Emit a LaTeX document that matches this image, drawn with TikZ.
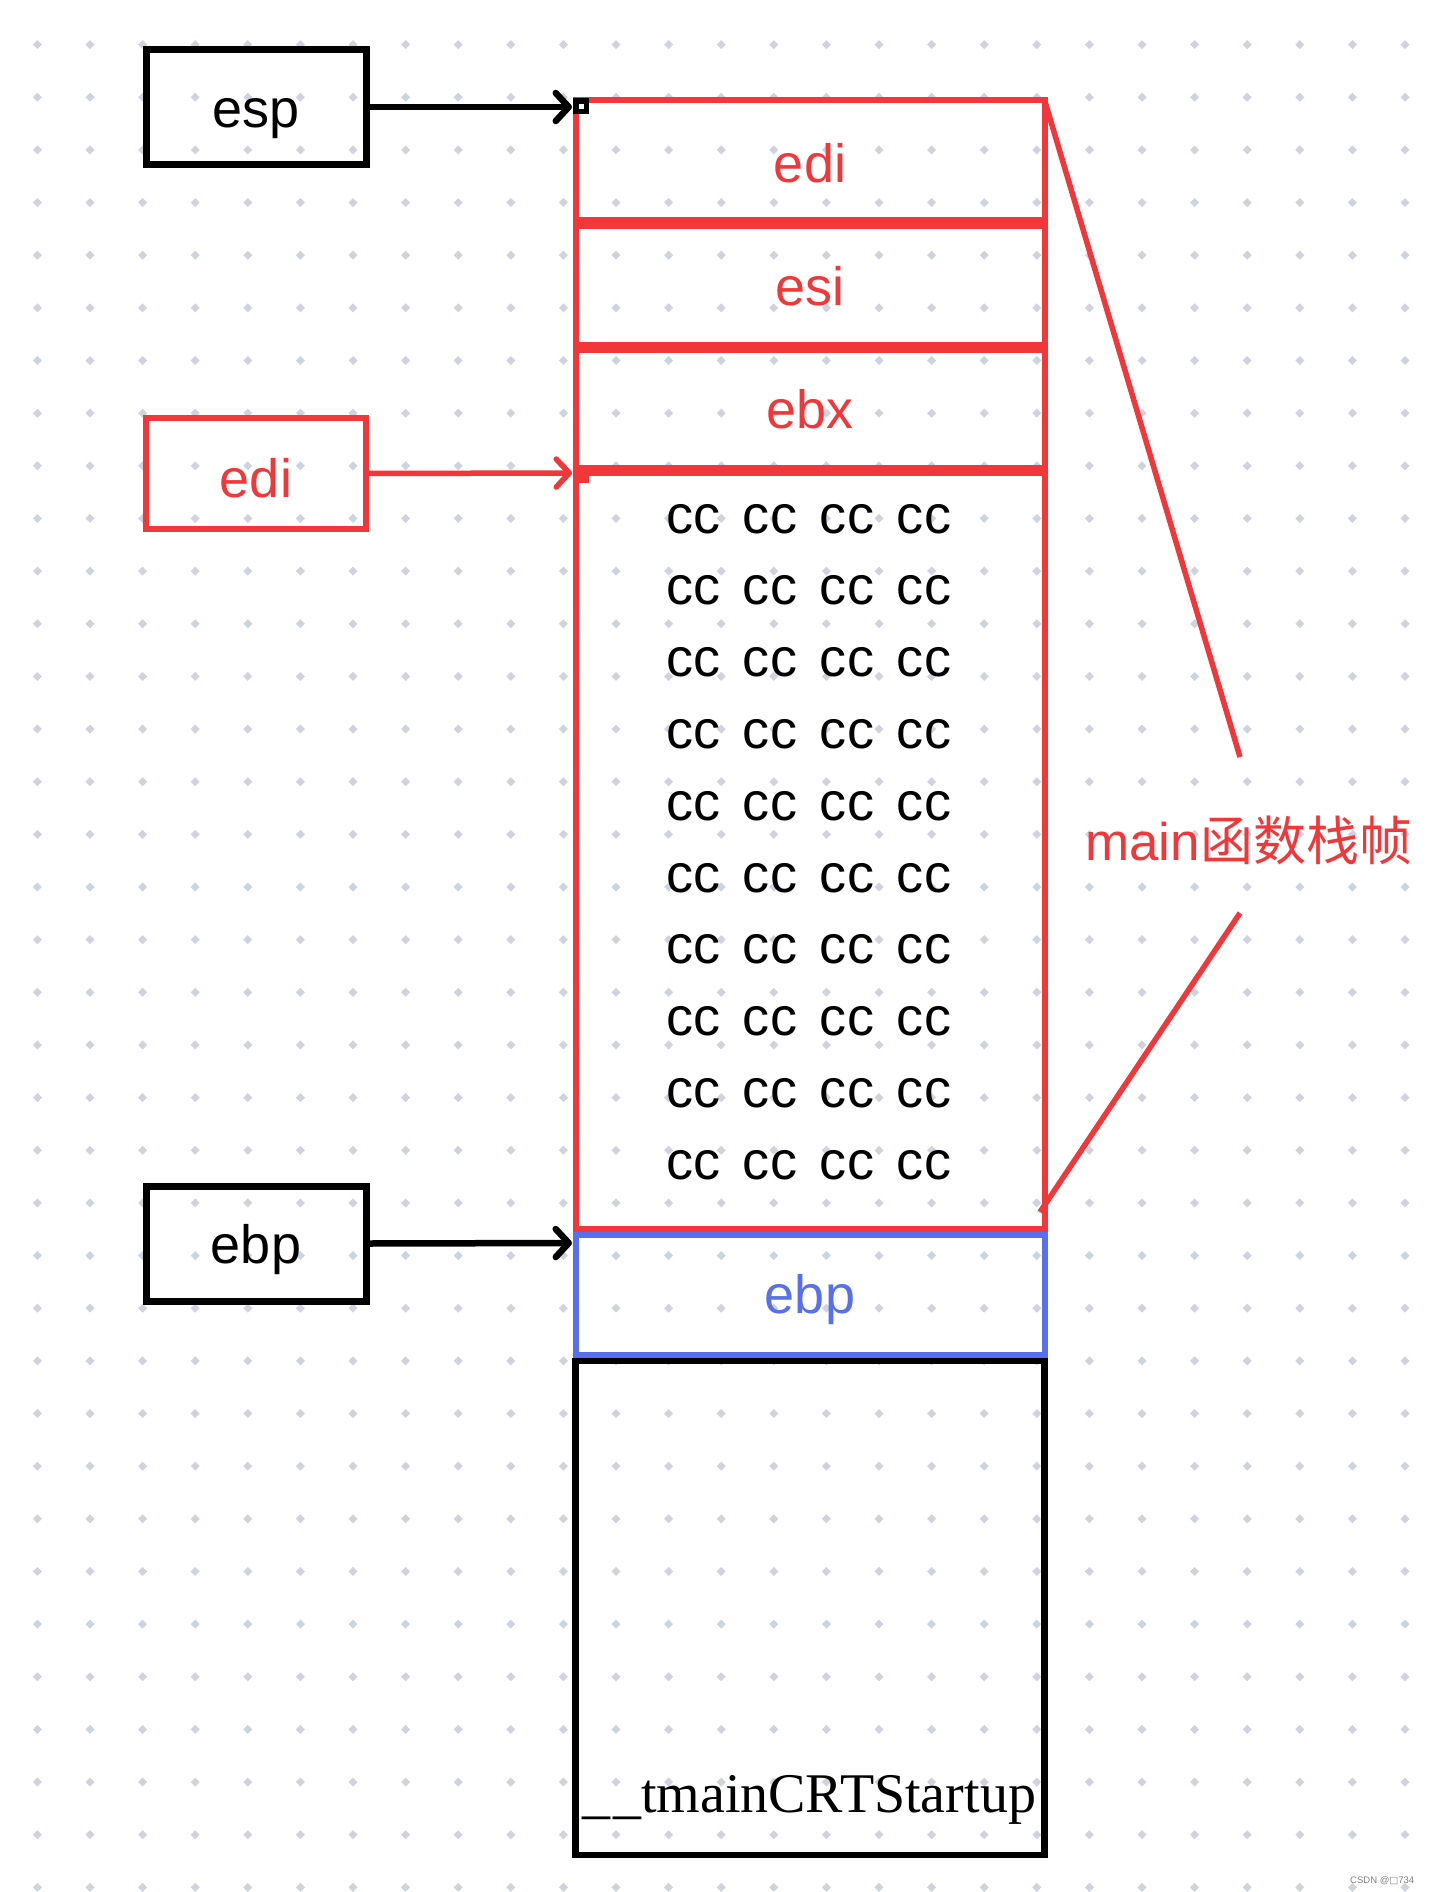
\documentclass[tikz,border=0pt]{standalone}
\usepackage{fontspec}
\setmainfont{Liberation Sans}
\newfontfamily\cjk{Noto Sans CJK SC}
\newfontfamily\serf{Liberation Serif}
\newfontfamily\dvs{DejaVu Sans}
\usetikzlibrary{arrows.meta}
\definecolor{myred}{RGB}{242,55,58}
\definecolor{myblue}{RGB}{88,112,235}
\definecolor{dotc}{RGB}{206,212,222}
\begin{document}
\begin{tikzpicture}[x=1pt,y=-1pt,
  lbl/.style={font=\fontsize{54}{60}\selectfont, inner sep=0, anchor=base},
  ptrbox/.style={draw, line width=7pt, inner sep=0, outer sep=0, minimum width=220pt, minimum height=114pt},
  cell/.style={draw=myred, line width=6pt, inner sep=0, outer sep=0, minimum width=469pt},
  ptr/.style={line width=6.5pt, -{Straight Barb[length=13pt,width=28pt,line cap=round,line join=round]}},
  brace/.style={draw=myred, line width=5.5pt}
]
\fill[white] (0,0) rectangle (1431,1892);
\useasboundingbox (0,0) rectangle (1431,1892);
% dot grid
\foreach \i in {0,...,26}{
  \foreach \j in {0,...,35}{
    \fill[dotc] ({37.4+52.6*\i},{44.6+52.65*\j}) +(0,-4.5) -- +(4.5,0) -- +(0,4.5) -- +(-4.5,0) -- cycle;
  }
}
% stack cells
\node[cell, minimum height=120.25pt] (ediC) at (810,160.125) {};
\node[cell, minimum height=119pt] (esiC) at (810,285.25) {};
\node[cell, minimum height=117.6pt] (ebxC) at (810,409.05) {};
\node[cell, minimum height=756.15pt] (ccC) at (810,851.4) {};
\node[cell, draw=myblue, minimum height=120.5pt] (ebpC) at (810,1295) {};
\node[cell, draw=black, line width=6.5pt, minimum height=494.25pt] (crtC) at (810,1607.9) {};
% cell labels
\node[lbl, text=myred] (ediT) at (810,182) {edi};
\node[lbl, text=myred] (esiT) at (810,305) {esi};
\node[lbl, text=myred] (ebxT) at (810,428) {ebx};
\foreach \k in {0,...,9}{
  \node[lbl] (cc\k) at (809,{533+71.8*\k}) {\spaceskip=22pt c\kern1pt c c\kern1pt c c\kern1pt c c\kern1pt c};
}
\node[lbl, text=myblue] (ebpT) at (810,1313) {ebp};
\node[lbl, font=\serf\fontsize{56}{60}\selectfont] (crtT) at (809,1812) {\_\kern3pt\_tmainCRTStartup};
% pointer boxes
\node[ptrbox] (esp) at (256,107) {};
\node[lbl] (espL) at (256,128) {esp};
\node[ptrbox, draw=myred, line width=6pt, minimum width=220.5pt, minimum height=111.5pt] (edi) at (256,473.5) {};
\node[lbl, text=myred] (ediL) at (256,497) {edi};
\node[ptrbox, minimum height=115pt] (ebp) at (256.5,1243.5) {};
\node[lbl] (ebpL) at (256,1263) {ebp};
% arrows
\coordinate (espA) at (572,107);
\coordinate (ediA) at (572,473);
\coordinate (ebpA) at (572,1243);
\draw[ptr] (esp.east) -- (espA);
\draw[ptr, draw=myred, line width=5.5pt] (edi.east) -- (ediA);
\draw[ptr] (ebp.east) -- (ebpA);
% handle marks
\fill[black] (573,98) rectangle (589,114);
\fill[white] (579,104) rectangle (584,109);
\fill[myred] (578,474) rectangle (589,483);
% brace to label
\coordinate (b1) at (1240,757);
\coordinate (b2) at (1240,913);
\coordinate (b3) at (1040,1212);
\draw[brace] (ediC.north east) -- (b1);
\draw[brace] (b2) -- (b3);
\node[lbl, anchor=base west, text=myred, font=\fontsize{53}{60}\selectfont] (frame) at (1085,860) {main{\cjk 函数栈帧}};
% watermark
\node[inner sep=0, anchor=base west, text=gray, font=\fontsize{9.5}{10}\selectfont] (wm) at (1350,1883) {CSDN @{\dvs □}734};
\end{tikzpicture}
\end{document}
